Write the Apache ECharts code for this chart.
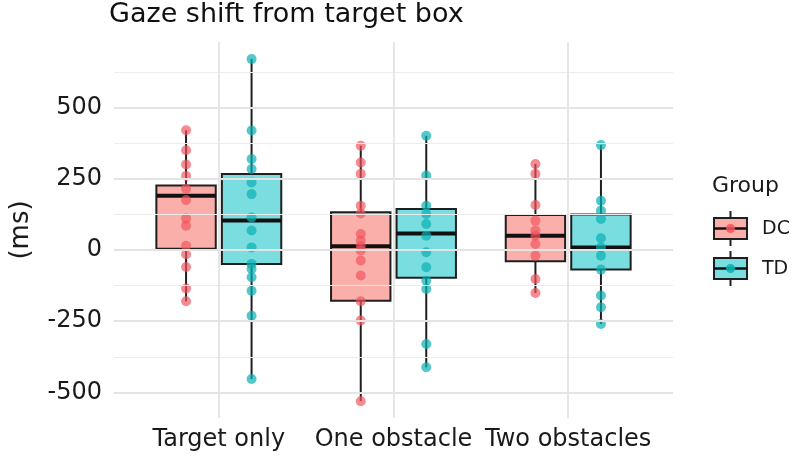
<!DOCTYPE html>
<html>
<head>
<meta charset="utf-8">
<script src="https://cdn.jsdelivr.net/npm/echarts@6/dist/echarts.min.js"></script>
<style>html,body{margin:0;padding:0;background:#fff;}#chart{width:793px;height:460px;}</style>
</head>
<body>
<div id="chart"></div>
<script>
// ---- data ----
const categories = ['Target only', 'One obstacle', 'Two obstacles'];
const groups = ['DC', 'TD'];
const yTicks = [-500, -250, 0, 250, 500];
const yMinorTicks = [-375, -125, 125, 375, 625];

// box statistics per category: [lower whisker, Q1, median, Q3, upper whisker]
const dcBoxes = [
  [-180, 4, 190, 226, 420],
  [-531, -178, 13, 132, 366],
  [-151, -40, 50, 123, 302]
];
const tdBoxes = [
  [-453, -49, 103, 267, 670],
  [-412, -98, 58, 144, 401],
  [-260, -69, 9, 124, 368]
];
// individual observations per category
const dcPoints = [
  [420, 350, 300, 260, 215, 175, 110, 85, 15, -15, -60, -135, -180],
  [366, 307, 267, 155, 128, 56, 33, 13, -2, -37, -90, -180, -248, -531],
  [302, 267, 158, 103, 68, 50, 21, -20, -102, -151]
];
const tdPoints = [
  [670, 419, 319, 284, 237, 196, 114, 68, 9, -49, -67, -96, -143, -231, -453],
  [401, 261, 155, 126, 91, 50, -8, -61, -108, -137, -330, -412],
  [368, 173, 138, 109, 41, 9, -20, -69, -160, -201, -260]
];

// ---- layout / style ----
const FONT = 'DejaVu Sans';
const dodge = 0.1875;
const boxWidth = 0.34;
const dcFill = 'rgba(248,118,109,0.58)', tdFill = 'rgba(0,191,196,0.52)';
const dcPt = 'rgba(240,84,94,0.85)', tdPt = 'rgba(8,176,180,0.88)';

function boxData(boxes, off) {
  return boxes.map((b, i) => [i + 1 + off].concat(b));
}
function pointData(pts, off) {
  const out = [];
  pts.forEach((arr, i) => arr.forEach(v => out.push([i + 1 + off, v])));
  return out;
}
function makeRender(fill) {
  return function (params, api) {
    const x = api.value(0);
    const lo = api.coord([x, api.value(1)]);
    const q1 = api.coord([x, api.value(2)]);
    const md = api.coord([x, api.value(3)]);
    const q3 = api.coord([x, api.value(4)]);
    const hi = api.coord([x, api.value(5)]);
    const w = api.size([boxWidth, 0])[0];
    const cx = lo[0];
    const stroke = '#1f1f1f';
    return {
      type: 'group',
      children: [
        { type: 'line', shape: { x1: cx, y1: hi[1], x2: cx, y2: q3[1] }, style: { stroke, lineWidth: 2 } },
        { type: 'line', shape: { x1: cx, y1: q1[1], x2: cx, y2: lo[1] }, style: { stroke, lineWidth: 2 } },
        { type: 'rect', shape: { x: cx - w / 2, y: q3[1], width: w, height: q1[1] - q3[1] }, style: { fill, stroke, lineWidth: 2 } },
        { type: 'line', shape: { x1: cx - w / 2, y1: md[1], x2: cx + w / 2, y2: md[1] }, style: { stroke: '#111', lineWidth: 4 } }
      ]
    };
  };
}

const gridLines = [];
yTicks.forEach(v => gridLines.push({ yAxis: v, lineStyle: { color: '#e4e4e4', width: 1.8, type: 'solid' } }));
yMinorTicks.forEach(v => gridLines.push({ yAxis: v, lineStyle: { color: '#ececec', width: 1.2, type: 'solid' } }));
categories.forEach((c, i) => gridLines.push({ xAxis: i + 1, lineStyle: { color: '#e4e4e4', width: 1.8, type: 'solid' } }));

// legend drawn as graphic
function legendKey(top, fill, pt, label) {
  const x0 = 714, w = 33, h = 21, cx = x0 + w / 2;
  return [
    { type: 'line', shape: { x1: cx, y1: top - 7, x2: cx, y2: top + h + 7 }, style: { stroke: '#1f1f1f', lineWidth: 2 } },
    { type: 'rect', shape: { x: x0, y: top, width: w, height: h }, style: { fill: '#fff', stroke: 'none' } },
    { type: 'rect', shape: { x: x0, y: top, width: w, height: h }, style: { fill, stroke: '#1f1f1f', lineWidth: 2 } },
    { type: 'line', shape: { x1: x0, y1: top + h / 2, x2: x0 + w, y2: top + h / 2 }, style: { stroke: '#111', lineWidth: 2.5 } },
    { type: 'circle', shape: { cx, cy: top + h / 2, r: 4.5 }, style: { fill: pt } },
    { type: 'text', x: 762, y: top + h / 2 + 1, style: { text: label, font: '19px "DejaVu Sans"', fill: '#1a1a1a', verticalAlign: 'middle' } }
  ];
}

const chart = echarts.init(document.getElementById('chart'), null, { renderer: 'canvas' });
chart.setOption({
  animation: false,
  backgroundColor: '#fff',
  title: {
    text: 'Gaze shift from target box',
    left: 109, top: 1, padding: 0,
    textStyle: { fontFamily: FONT, fontSize: 27, fontWeight: 'normal', color: '#111' }
  },
  grid: { left: 107, right: 120, top: 42, height: 376, containLabel: false },
  xAxis: {
    type: 'value', min: 0.4, max: 3.6,
    axisLine: { show: false }, axisTick: { show: false }, splitLine: { show: false },
    axisLabel: {
      customValues: [1, 2, 3],
      formatter: v => categories[Math.round(v) - 1] || '',
      fontFamily: FONT, fontSize: 24, color: '#1a1a1a', margin: 10, hideOverlap: false
    }
  },
  yAxis: {
    type: 'value', min: -590, max: 730,
    name: '(ms)', nameLocation: 'middle', nameGap: 80,
    nameTextStyle: { fontFamily: FONT, fontSize: 26, color: '#1a1a1a' },
    axisLine: { show: false }, axisTick: { show: false }, splitLine: { show: false },
    axisLabel: { customValues: yTicks, fontFamily: FONT, fontSize: 24, color: '#1a1a1a', margin: 12 }
  },
  graphic: [
    { type: 'text', x: 712, y: 175, style: { text: 'Group', font: '22px "DejaVu Sans"', fill: '#1a1a1a' } }
  ].concat(legendKey(218, dcFill, dcPt, 'DC'), legendKey(258, tdFill, tdPt, 'TD')),
  series: [
    {
      type: 'line', data: [], z: 0, silent: true,
      markLine: { silent: true, symbol: ['none', 'none'], label: { show: false }, animation: false, data: gridLines }
    },
    { name: 'DC', type: 'custom', z: 2, renderItem: makeRender(dcFill), encode: { x: 0, y: [1, 2, 3, 4, 5] }, data: boxData(dcBoxes, -dodge) },
    { name: 'TD', type: 'custom', z: 2, renderItem: makeRender(tdFill), encode: { x: 0, y: [1, 2, 3, 4, 5] }, data: boxData(tdBoxes, dodge) },
    { name: 'DC', type: 'scatter', z: 3, symbolSize: 10, itemStyle: { color: dcPt }, data: pointData(dcPoints, -dodge) },
    { name: 'TD', type: 'scatter', z: 3, symbolSize: 10, itemStyle: { color: tdPt }, data: pointData(tdPoints, dodge) }
  ]
});
</script>
</body>
</html>
